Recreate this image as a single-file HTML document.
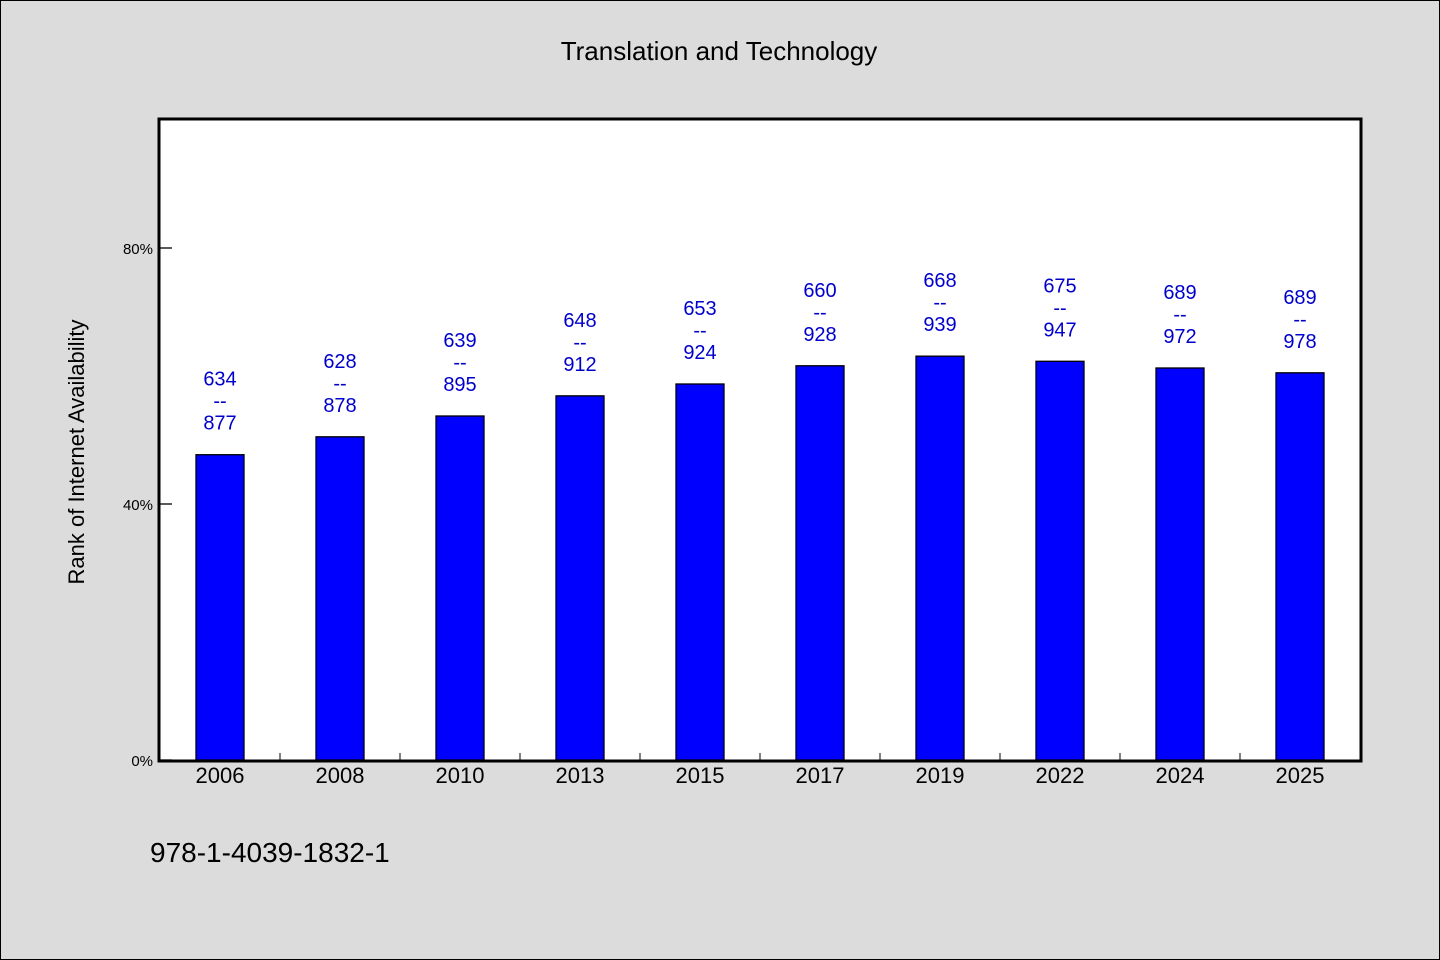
<!DOCTYPE html>
<html><head><meta charset="utf-8"><style>
body{margin:0;width:1440px;height:960px;background:#dcdcdc;overflow:hidden}
svg{display:block;font-family:"WenQuanYi Zen Hei","Liberation Sans",sans-serif}
</style></head><body>
<svg id="c" width="1440" height="960">
<rect x="0.5" y="0.5" width="1439" height="959" fill="#dcdcdc" stroke="#000"/>
<text x="719" y="60" font-size="26" text-anchor="middle">Translation and Technology</text>
<rect x="159" y="119" width="1202" height="642" fill="#fff" stroke="#000" stroke-width="3"/>
<text transform="translate(84,452) rotate(-90)" font-size="22" text-anchor="middle">Rank of Internet Availability</text>
<text x="150" y="862" font-size="28">978-1-4039-1832-1</text>
<g id="g"></g>
</svg>
<script>
const categories=["2006","2008","2010","2013","2015","2017","2019","2022","2024","2025"];
const values=[47.7,50.5,53.75,56.9,58.75,61.6,63.1,62.3,61.25,60.5];
const topLabels=["634","628","639","648","653","660","668","675","689","689"];
const bottomLabels=["877","878","895","912","924","928","939","947","972","978"];
const yTicks=[0,40,80];
const NS="http://www.w3.org/2000/svg";
const g=document.getElementById('g');
const x0=160,slot=120,y0=760,scale=6.4;
const y=v=>y0-v*scale;
const xc=i=>x0+slot*i+slot/2;
function mk(t,a,txt){const e=document.createElementNS(NS,t);for(const k in a)e.setAttribute(k,a[k]);if(txt!==undefined)e.textContent=txt;g.appendChild(e);return e;}
yTicks.forEach(v=>{
 const l=mk('line',{x1:160,x2:172,y1:y(v),y2:y(v),stroke:'#000','stroke-width':1.3});
 
 
 const t=mk('text',{x:153,y:y(v)+6,'font-size':15,'text-anchor':'end'},v+'%');
 
 
});
categories.forEach((c,i)=>{
 if(i>0){const tk=mk('line',{x1:x0+slot*i,x2:x0+slot*i,y1:760,y2:753,stroke:'#000'});
 
 }
 const b=mk('rect',{x:xc(i)-24,y:y(values[i]),width:48,height:values[i]*scale,fill:'#0000ff',stroke:'#000','stroke-width':1.3});
 
 
 const xl=mk('text',{x:xc(i),y:783,'font-size':22,'text-anchor':'middle'},c);
 
 
 const ty=y(values[i]);
 const t1=mk('text',{x:xc(i),y:ty-69,'font-size':20,'text-anchor':'middle',fill:'#0000cc'},topLabels[i]);
 
 
 const t2=mk('text',{x:xc(i),y:ty-47,'font-size':20,'text-anchor':'middle',fill:'#0000cc'},'--');
 
 
 const t3=mk('text',{x:xc(i),y:ty-25,'font-size':20,'text-anchor':'middle',fill:'#0000cc'},bottomLabels[i]);
 
 
});
</script>
</body></html>
